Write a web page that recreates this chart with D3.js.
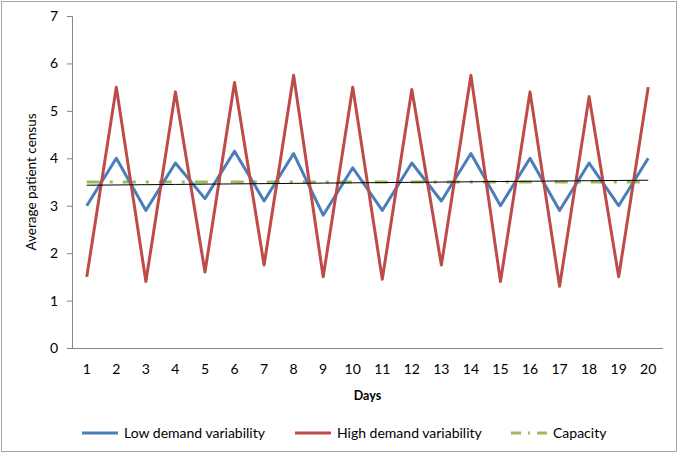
<!DOCTYPE html>
<html>
<head>
<meta charset="utf-8">
<script src="https://cdn.jsdelivr.net/npm/d3@7"></script>
<style>
  body { margin: 0; background: #fff; }
  text { font-family: Lato, "Open Sans", sans-serif; fill: #000; }
</style>
</head>
<body>
<div id="chart"></div>
<script>
// data
var days = d3.range(1, 21);
var lowDemand = [3.0, 4.0, 2.9, 3.9, 3.15, 4.15, 3.1, 4.1, 2.8, 3.8,
                 2.9, 3.9, 3.1, 4.1, 3.0, 4.0, 2.9, 3.9, 3.0, 4.0];
var highDemand = [1.5, 5.5, 1.4, 5.4, 1.6, 5.6, 1.75, 5.75, 1.5, 5.5,
                  1.45, 5.45, 1.75, 5.75, 1.4, 5.4, 1.3, 5.3, 1.5, 5.5];
var capacity = days.map(function () { return 3.5; });
var yTicks = [0, 1, 2, 3, 4, 5, 6, 7];

var width = 678,
  height = 453,
  margin = { top: 16, right: 15, bottom: 105, left: 72 };

var svg = d3.select('#chart').append('svg')
  .attr('width', width)
  .attr('height', height);

// outer frame
svg.append('rect')
  .attr('x', 1.5).attr('y', 1.5)
  .attr('width', width - 3).attr('height', height - 3)
  .attr('fill', '#fff')
  .attr('stroke', '#a6a6a6');

var x = d3.scaleBand()
  .domain(days)
  .range([margin.left, width - margin.right]);
var y = d3.scaleLinear()
  .domain([0, 7])
  .range([height - margin.bottom, margin.top]);

function cx(d) { return x(d) + x.bandwidth() / 2; }

// y axis
var yAxis = svg.append('g')
  .attr('transform', 'translate(' + margin.left + ',0)')
  .call(d3.axisLeft(y).tickValues(yTicks).tickFormat(d3.format('d'))
    .tickSize(5).tickPadding(9));
yAxis.selectAll('path, line').attr('stroke', '#868686');
yAxis.selectAll('text').attr('font-size', 14).attr('font-family', 'Lato, sans-serif');

// x axis (no tick marks)
var xAxis = svg.append('g')
  .attr('transform', 'translate(0,' + y(0) + ')')
  .call(d3.axisBottom(x).tickSize(0).tickPadding(16));
xAxis.select('.domain').attr('stroke', '#868686').attr('d',
  'M' + margin.left + ',0.5H' + (width - margin.right));
xAxis.selectAll('text').attr('font-size', 14).attr('font-family', 'Lato, sans-serif');

// axis titles
svg.append('text')
  .attr('x', (margin.left + width - margin.right) / 2)
  .attr('y', 400)
  .attr('text-anchor', 'middle')
  .attr('font-size', 12.5)
  .attr('font-weight', 'bold')
  .text('Days');

svg.append('text')
  .attr('transform', 'translate(36,' + (y(0) + y(7)) / 2 + ') rotate(-90)')
  .attr('text-anchor', 'middle')
  .attr('font-size', 13.5)
  .text('Average patient census');

// series
var line = d3.line()
  .x(function (d, i) { return cx(days[i]); })
  .y(function (d) { return y(d); });

svg.append('path').datum(capacity)
  .attr('d', line)
  .attr('fill', 'none')
  .attr('stroke', '#9BBB59')
  .attr('stroke-width', 3)
  .attr('stroke-dasharray', '13,10,3,10');

svg.append('path').datum(lowDemand)
  .attr('d', line)
  .attr('fill', 'none')
  .attr('stroke', '#4A7EBB')
  .attr('stroke-width', 3)
  .attr('stroke-linejoin', 'round');

svg.append('path').datum(highDemand)
  .attr('d', line)
  .attr('fill', 'none')
  .attr('stroke', '#BE4B48')
  .attr('stroke-width', 3)
  .attr('stroke-linejoin', 'round');

// linear trend of the low demand series
var mx = d3.mean(days), my = d3.mean(lowDemand);
var slope = d3.sum(days, function (d, i) { return (d - mx) * (lowDemand[i] - my); }) /
  d3.sum(days, function (d) { return (d - mx) * (d - mx); });
var trend = days.map(function (d) { return my + slope * (d - mx); });
svg.append('path').datum(trend)
  .attr('d', line)
  .attr('fill', 'none')
  .attr('stroke', '#000')
  .attr('stroke-width', 1);

// legend
var legendItems = [
  { label: 'Low demand variability', color: '#4A7EBB', dash: null, x: 82 },
  { label: 'High demand variability', color: '#BE4B48', dash: null, x: 295 },
  { label: 'Capacity', color: '#9BBB59', dash: '10,7,2,7', x: 511 }
];
var lg = svg.selectAll('.legend').data(legendItems).enter().append('g')
  .attr('class', 'legend')
  .attr('transform', function (d) { return 'translate(' + d.x + ',433)'; });
lg.append('line')
  .attr('x1', 0).attr('x2', 36)
  .attr('stroke', function (d) { return d.color; })
  .attr('stroke-width', 3)
  .attr('stroke-dasharray', function (d) { return d.dash; });
lg.append('text')
  .attr('x', 42)
  .attr('y', 5)
  .attr('font-size', 14)
  .text(function (d) { return d.label; });
</script>
</body>
</html>
